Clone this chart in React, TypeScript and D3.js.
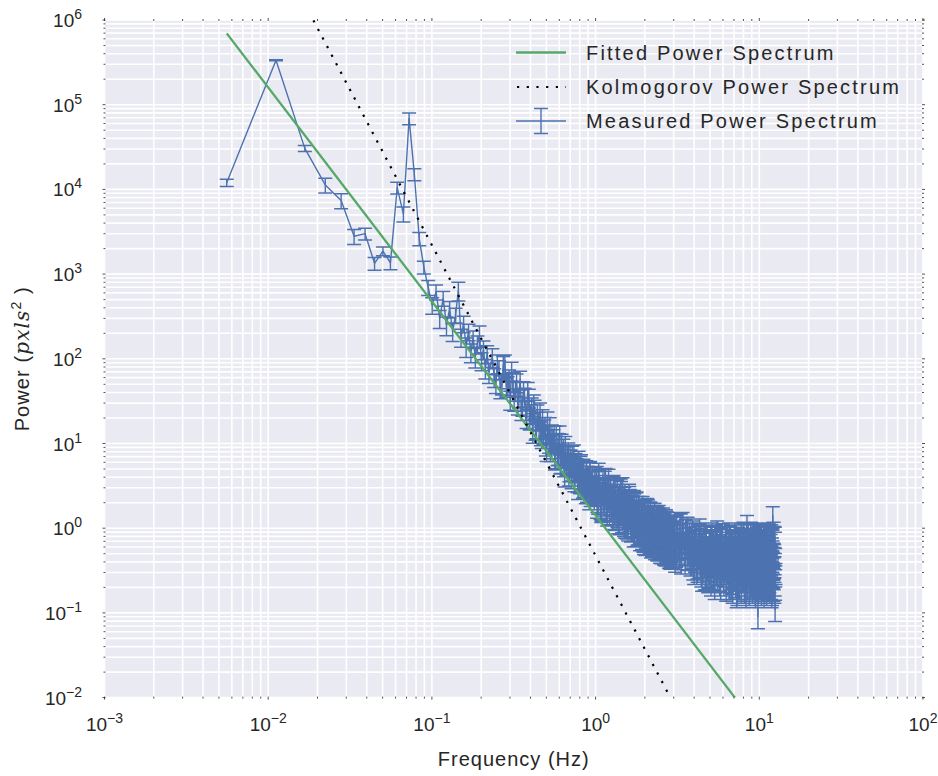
import React from 'react';
import * as d3 from 'd3';

// ---------- data ----------
// individually resolved low-frequency bins (Hz)
const freqLow = [
  0.00558, 0.01116, 0.01674, 0.02232, 0.0279, 0.03348, 0.03906, 0.04464, 0.05022, 0.0558,
  0.06138, 0.06696, 0.07254, 0.07812, 0.0837, 0.08928, 0.09486, 0.1004, 0.106, 0.1116,
  0.1172, 0.1228, 0.1283, 0.1339, 0.1395, 0.1451, 0.1507, 0.1562, 0.1618, 0.1674,
  0.173, 0.1786, 0.1841, 0.1897, 0.1953, 0.2009, 0.2065, 0.2121, 0.2176, 0.2232,
];
const powerLow = [
  12000, 335000, 30500, 11300, 7400, 2800, 3000, 1340, 1870, 1360,
  10500, 5150, 69000, 15100, 2630, 1210, 700, 430, 620, 300,
  520, 250, 390, 210, 330, 640, 180, 260, 140, 210,
  120, 175, 105, 150, 190, 95, 130, 78, 115, 70,
];
const relErrLow = [
  0.1, 0.015, 0.08, 0.2, 0.2, 0.2, 0.16, 0.17, 0.12, 0.17,
  0.16, 0.2, 0.16, 0.16, 0.18, 0.17, 0.2, 0.22, 0.2, 0.24,
  0.2, 0.25, 0.22, 0.24, 0.2, 0.25, 0.24, 0.22, 0.26, 0.22,
  0.25, 0.22, 0.26, 0.24, 0.28, 0.24, 0.25, 0.26, 0.24, 0.27,
];

// 0.23 - 1 Hz (even bins)
const freqMid = [
  0.234, 0.246, 0.257, 0.268, 0.279, 0.29, 0.301, 0.312, 0.324, 0.335,
  0.346, 0.357, 0.368, 0.379, 0.391, 0.402, 0.413, 0.424, 0.435, 0.446,
  0.458, 0.469, 0.48, 0.491, 0.502, 0.513, 0.525, 0.536, 0.547, 0.558,
  0.569, 0.58, 0.592, 0.603, 0.614, 0.625, 0.636, 0.647, 0.658, 0.67,
  0.681, 0.692, 0.703, 0.714, 0.725, 0.737, 0.748, 0.759, 0.77, 0.781,
  0.792, 0.804, 0.815, 0.826, 0.837, 0.848, 0.859, 0.871, 0.882, 0.893,
  0.904, 0.915, 0.926, 0.938, 0.949, 0.96, 0.971, 0.982, 0.993,
];
const powerMid = [
  105, 52, 76, 50, 89, 49, 33, 55, 42, 29,
  57, 28, 36, 20, 35, 23, 13.4, 26, 15.2, 18.7,
  24, 11.6, 13, 16.2, 8.2, 13.2, 16.1, 8.8, 10, 13,
  6.7, 10.5, 7.4, 12.9, 5.9, 7.6, 9, 4.1, 7.3, 5.7,
  8.1, 4.7, 6.7, 3.9, 5.5, 7.7, 4.2, 4.6, 5.9, 2.9,
  4.8, 3.4, 5.9, 3.7, 3.0, 4.7, 3.8, 2.6, 4.7, 3.0,
  4.0, 2.2, 4.9, 3.0, 2.6, 4.0, 3.3, 2.2, 3.7,
];
// 0.23 - 1 Hz (odd bins)
const freqMid2 = [
  0.24, 0.251, 0.262, 0.273, 0.285, 0.296, 0.307, 0.318, 0.329, 0.34,
  0.352, 0.363, 0.374, 0.385, 0.396, 0.407, 0.419, 0.43, 0.441, 0.452,
  0.463, 0.474, 0.486, 0.497, 0.508, 0.519, 0.53, 0.541, 0.553, 0.564,
  0.575, 0.586, 0.597, 0.608, 0.62, 0.631, 0.642, 0.653, 0.664, 0.675,
  0.687, 0.698, 0.709, 0.72, 0.731, 0.742, 0.754, 0.765, 0.776, 0.787,
  0.798, 0.809, 0.821, 0.832, 0.843, 0.854, 0.865, 0.876, 0.887, 0.899,
  0.91, 0.921, 0.932, 0.943, 0.954, 0.965, 0.977, 0.988, 0.999,
];
const powerMid2 = [
  61, 89, 45, 85, 47, 59, 73, 32, 53, 35,
  25, 43, 25, 42, 19.3, 27.6, 30, 14.6, 22.8, 15.1,
  12.5, 20, 15.2, 9.5, 18.9, 10.2, 8.1, 13.2, 11.6, 6.5,
  12.8, 7.3, 10.4, 5.8, 10.3, 6.8, 5.4, 9.7, 5.6, 7.6,
  4.2, 7.7, 4.8, 7.4, 4.7, 3.6, 6.1, 5.3, 3.5, 6.5,
  3.5, 5.6, 2.9, 4.7, 5.2, 3.1, 3.6, 5.0, 2.7, 4.3,
  3.0, 4.8, 2.4, 3.8, 4.2, 2.4, 2.8, 4.2, 2.5,
];
const relErrMid = 0.25;

// 1 - 3 Hz
const freqHigh1 = [
  1.016, 1.038, 1.06, 1.083, 1.105, 1.127, 1.15, 1.172, 1.194, 1.216,
  1.239, 1.261, 1.283, 1.306, 1.328, 1.35, 1.373, 1.395, 1.417, 1.44,
  1.462, 1.484, 1.507, 1.529, 1.551, 1.574, 1.596, 1.618, 1.641, 1.663,
  1.685, 1.708, 1.73, 1.752, 1.775, 1.797, 1.819, 1.842, 1.864, 1.886,
  1.908, 1.931, 1.953, 1.975, 1.998, 2.02, 2.042, 2.065, 2.087, 2.109,
  2.132, 2.154, 2.176, 2.199, 2.221, 2.243, 2.266, 2.288, 2.31, 2.333,
  2.355, 2.377, 2.4, 2.422, 2.444, 2.466, 2.489, 2.511, 2.533, 2.556,
  2.578, 2.6, 2.623, 2.645, 2.667, 2.69, 2.712, 2.734, 2.757, 2.779,
  2.801, 2.824, 2.846, 2.868, 2.891, 2.913, 2.935, 2.958, 2.98, 3.002,
];
const powerHigh1 = [
  4.2, 2.0, 2.9, 1.6, 3.3, 2.3, 4.0, 1.8, 2.6, 1.5,
  2.9, 1.9, 3.2, 1.5, 1.95, 2.4, 1.18, 2.6, 1.5, 1.93,
  3.1, 1.32, 1.56, 2.1, 1.02, 1.86, 1.34, 2.25, 1.06, 1.49,
  1.9, 0.82, 1.53, 1.09, 2.06, 1.17, 0.87, 1.5, 1.23, 0.9,
  1.65, 0.99, 1.31, 0.67, 1.43, 1.04, 0.78, 1.77, 0.85, 1.1,
  0.68, 1.29, 0.92, 1.46, 0.7, 1.09, 0.8, 1.31, 0.58, 0.95,
  1.13, 0.7, 1.38, 0.8, 0.59, 1.16, 0.84, 1.0, 0.6, 1.2,
  0.68, 0.88, 0.5, 1.03, 0.73, 1.3, 0.58, 0.79, 0.94, 0.5,
  1.04, 0.65, 0.83, 0.53, 1.07, 0.68, 0.45, 0.91, 0.58, 0.76,
];
const freqHigh1b = [
  1.027, 1.049, 1.071, 1.094, 1.116, 1.138, 1.161, 1.183, 1.205, 1.228,
  1.25, 1.272, 1.295, 1.317, 1.339, 1.362, 1.384, 1.406, 1.429, 1.451,
  1.473, 1.496, 1.518, 1.54, 1.562, 1.585, 1.607, 1.629, 1.652, 1.674,
  1.696, 1.719, 1.741, 1.763, 1.786, 1.808, 1.83, 1.853, 1.875, 1.897,
  1.92, 1.942, 1.964, 1.987, 2.009, 2.031, 2.053, 2.076, 2.098, 2.12,
  2.143, 2.165, 2.187, 2.21, 2.232, 2.254, 2.277, 2.299, 2.321, 2.344,
  2.366, 2.388, 2.411, 2.433, 2.455, 2.478, 2.5, 2.522, 2.545, 2.567,
  2.589, 2.612, 2.634, 2.656, 2.679, 2.701, 2.723, 2.745, 2.768, 2.79,
  2.812, 2.835, 2.857, 2.879, 2.902, 2.924, 2.946, 2.969, 2.991, 3.013,
];
const powerHigh1b = [
  2.1, 3.8, 1.74, 3.1, 2.1, 3.7, 1.69, 2.9, 2.1, 3.1,
  1.62, 2.4, 1.29, 2.9, 1.74, 1.4, 2.45, 1.5, 2.8, 1.21,
  1.89, 2.4, 1.04, 1.6, 2.1, 1.17, 2.45, 1.24, 1.82, 0.95,
  1.31, 1.99, 1.04, 1.7, 0.82, 1.43, 1.86, 0.88, 1.08, 1.56,
  0.77, 1.39, 0.91, 1.68, 0.66, 1.25, 1.46, 0.73, 1.33, 0.8,
  1.46, 0.72, 1.12, 0.63, 1.3, 0.84, 1.47, 0.66, 1.15, 0.7,
  0.62, 1.26, 0.74, 1.0, 1.31, 0.53, 1.06, 0.63, 1.12, 0.7,
  1.06, 0.52, 1.16, 0.62, 0.9, 0.53, 1.04, 0.67, 0.49, 1.05,
  0.54, 0.91, 0.45, 1.13, 0.56, 0.85, 0.62, 0.46, 0.94, 0.65,
];
const freqHigh1c = [
  1.021, 1.044, 1.066, 1.088, 1.11, 1.133, 1.155, 1.177, 1.2, 1.222,
  1.244, 1.267, 1.289, 1.311, 1.334, 1.356, 1.378, 1.401, 1.423, 1.445,
  1.468, 1.49, 1.512, 1.535, 1.557, 1.579, 1.602, 1.624, 1.646, 1.668,
  1.691, 1.713, 1.735, 1.758, 1.78, 1.802, 1.825, 1.847, 1.869, 1.892,
  1.914, 1.936, 1.959, 1.981, 2.003, 2.026, 2.048, 2.07, 2.093, 2.115,
  2.137, 2.16, 2.182, 2.204, 2.227, 2.249, 2.271, 2.294, 2.316, 2.338,
  2.361, 2.383, 2.405, 2.428, 2.45, 2.472, 2.494, 2.517, 2.539, 2.561,
  2.584, 2.606, 2.628, 2.651, 2.673, 2.695, 2.718, 2.74, 2.762, 2.785,
  2.807, 2.829, 2.852, 2.874, 2.896, 2.919, 2.941, 2.963, 2.986, 3.008,
];
const powerHigh1c = [
  1.8, 4.6, 2.7, 1.67, 3.9, 1.91, 3.0, 1.45, 3.9, 1.96,
  2.5, 1.32, 3.3, 1.89, 1.31, 2.9, 1.96, 1.15, 3.0, 1.47,
  2.2, 1.09, 2.6, 1.18, 2.1, 0.97, 2.6, 1.47, 0.94, 2.1,
  1.17, 2.2, 0.83, 1.63, 2.1, 0.86, 1.28, 1.88, 0.74, 1.56,
  0.83, 1.86, 0.71, 1.23, 1.65, 0.65, 1.46, 0.86, 1.7, 0.67,
  1.25, 1.6, 0.61, 0.91, 1.45, 0.61, 1.23, 1.55, 0.67, 0.95,
  1.41, 0.56, 1.1, 1.46, 0.59, 0.85, 1.28, 0.52, 1.12, 0.64,
  1.36, 0.52, 0.91, 1.23, 0.49, 0.97, 1.24, 0.51, 0.79, 1.13,
  0.46, 0.99, 1.21, 0.47, 0.67, 1.1, 0.47, 0.87, 1.12, 0.45,
];
const relErrHigh1 = 0.27;

// 3 - 12.6 Hz
const freqHigh2 = [
  3.05, 3.11, 3.18, 3.25, 3.31, 3.38, 3.45, 3.52, 3.58, 3.65,
  3.72, 3.78, 3.85, 3.92, 3.98, 4.05, 4.12, 4.19, 4.25, 4.32,
  4.39, 4.45, 4.52, 4.59, 4.65, 4.72, 4.79, 4.86, 4.92, 4.99,
  5.06, 5.12, 5.19, 5.26, 5.32, 5.39, 5.46, 5.53, 5.59, 5.66,
  5.73, 5.79, 5.86, 5.93, 5.99, 6.06, 6.13, 6.19, 6.26, 6.33,
  6.4, 6.46, 6.53, 6.6, 6.66, 6.73, 6.8, 6.86, 6.93, 7.0,
  7.07, 7.13, 7.2, 7.27, 7.33, 7.4, 7.47, 7.54, 7.6, 7.67,
  7.74, 7.8, 7.87, 7.94, 8.0, 8.07, 8.14, 8.21, 8.27, 8.34,
  8.41, 8.47, 8.54, 8.61, 8.67, 8.74, 8.81, 8.87, 8.94, 9.01,
  9.08, 9.14, 9.21, 9.28, 9.34, 9.41, 9.48, 9.54, 9.61, 9.68,
  9.75, 9.81, 9.88, 9.95, 10.01, 10.08, 10.15, 10.21, 10.28, 10.35,
  10.42, 10.48, 10.55, 10.62, 10.68, 10.75, 10.82, 10.88, 10.95, 11.02,
  11.09, 11.15, 11.22, 11.29, 11.35, 11.42, 11.49, 11.55, 11.62, 11.69,
  11.75, 11.82, 11.89, 11.96, 12.02, 12.09, 12.16, 12.22, 12.29, 12.36,
  12.42, 12.49, 12.56,
];
const powerHigh2 = [
  1.05, 0.48, 0.85, 0.52, 1.15, 0.6, 0.9, 0.4, 0.78, 1.05,
  0.45, 0.7, 0.38, 0.95, 0.58, 0.42, 0.82, 0.35, 0.62, 1.0,
  0.4, 0.55, 0.3, 0.72, 0.48, 0.9, 0.33, 0.6, 0.27, 0.52,
  0.8, 0.36, 0.58, 0.25, 0.45, 0.7, 0.32, 0.95, 0.4, 0.55,
  0.22, 0.62, 0.35, 0.8, 0.45, 0.28, 0.52, 0.34, 0.75, 0.24,
  0.48, 0.38, 0.9, 0.3, 0.58, 0.2, 0.44, 0.68, 0.27, 0.52,
  0.36, 0.85, 0.3, 0.16, 0.48, 0.62, 0.25, 0.4, 0.75, 0.33,
  0.5, 0.22, 0.58, 0.38, 0.92, 0.28, 0.45, 0.18, 0.55, 0.35,
  1.1, 0.26, 0.42, 0.6, 0.3, 0.4, 0.52, 0.85, 0.24, 0.46,
  0.33, 0.68, 0.2, 0.5, 0.36, 0.78, 0.28, 0.55, 0.4, 0.22,
  0.62, 0.09, 0.48, 0.3, 0.7, 0.25, 0.42, 0.88, 0.34, 0.56,
  0.2, 0.45, 0.65, 0.3, 0.5, 0.18, 0.4, 0.8, 0.27, 0.58,
  0.36, 0.72, 0.24, 0.5, 0.33, 0.66, 0.2, 0.45, 0.78, 0.29,
  0.55, 0.38, 0.16, 0.6, 0.42, 1.4, 0.27, 0.52, 0.35, 0.82,
  0.22, 0.11, 0.3,
];
const freqHigh2b = [
  3.08, 3.15, 3.21, 3.28, 3.35, 3.42, 3.48, 3.55, 3.62, 3.68,
  3.75, 3.82, 3.88, 3.95, 4.02, 4.09, 4.15, 4.22, 4.29, 4.35,
  4.42, 4.49, 4.55, 4.62, 4.69, 4.76, 4.82, 4.89, 4.96, 5.02,
  5.09, 5.16, 5.22, 5.29, 5.36, 5.43, 5.49, 5.56, 5.63, 5.69,
  5.76, 5.83, 5.89, 5.96, 6.03, 6.09, 6.16, 6.23, 6.3, 6.36,
  6.43, 6.5, 6.56, 6.63, 6.7, 6.76, 6.83, 6.9, 6.97, 7.03,
  7.1, 7.17, 7.23, 7.3, 7.37, 7.43, 7.5, 7.57, 7.64, 7.7,
  7.77, 7.84, 7.9, 7.97, 8.04, 8.1, 8.17, 8.24, 8.31, 8.37,
  8.44, 8.51, 8.57, 8.64, 8.71, 8.77, 8.84, 8.91, 8.98, 9.04,
  9.11, 9.18, 9.24, 9.31, 9.38, 9.44, 9.51, 9.58, 9.65, 9.71,
  9.78, 9.85, 9.91, 9.98, 10.05, 10.11, 10.18, 10.25, 10.32, 10.38,
  10.45, 10.52, 10.58, 10.65, 10.72, 10.78, 10.85, 10.92, 10.99, 11.05,
  11.12, 11.19, 11.25, 11.32, 11.39, 11.45, 11.52, 11.59, 11.66, 11.72,
  11.79, 11.86, 11.92, 11.99, 12.06, 12.12, 12.19, 12.26, 12.33, 12.39,
  12.46, 12.53,
];
const powerHigh2b = [
  0.55, 0.95, 0.62, 1.2, 0.45, 0.78, 0.5, 0.98, 0.44, 0.68,
  0.88, 0.4, 0.62, 0.34, 0.72, 0.5, 0.3, 0.66, 0.45, 0.85,
  0.28, 0.68, 0.5, 0.36, 0.82, 0.28, 0.55, 0.42, 0.75, 0.3,
  0.5, 0.72, 0.26, 0.6, 0.38, 0.85, 0.29, 0.5, 0.65, 0.25,
  0.46, 0.78, 0.3, 0.55, 0.24, 0.6, 0.42, 0.7, 0.22, 0.5,
  0.62, 0.28, 0.45, 0.82, 0.35, 0.5, 0.23, 0.62, 0.4, 0.8,
  0.25, 0.55, 0.42, 0.7, 0.3, 0.2, 0.52, 0.66, 0.29, 0.45,
  0.85, 0.35, 0.26, 0.6, 0.44, 0.18, 0.7, 0.32, 0.5, 0.9,
  0.24, 0.48, 0.36, 0.75, 0.28, 0.58, 0.2, 0.42, 0.66, 0.32,
  0.52, 0.88, 0.26, 0.44, 0.62, 0.17, 0.5, 0.35, 0.72, 0.28,
  0.46, 0.6, 0.24, 0.82, 0.38, 0.52, 0.2, 0.66, 0.31, 0.48,
  0.75, 0.26, 0.55, 0.4, 0.9, 0.22, 0.5, 0.36, 0.62, 0.18,
  0.45, 0.7, 0.3, 0.58, 0.38, 0.85, 0.24, 0.52, 0.34, 0.66,
  0.2, 0.48, 0.76, 0.3, 0.55, 0.4, 0.92, 0.26, 0.5, 0.36,
  0.7, 0.28,
];
const freqHigh2c = [
  3.06, 3.13, 3.2, 3.27, 3.33, 3.4, 3.47, 3.53, 3.6, 3.67,
  3.73, 3.8, 3.87, 3.93, 4.0, 4.07, 4.14, 4.2, 4.27, 4.34,
  4.4, 4.47, 4.54, 4.6, 4.67, 4.74, 4.8, 4.87, 4.94, 5.01,
  5.07, 5.14, 5.21, 5.27, 5.34, 5.41, 5.47, 5.54, 5.61, 5.68,
  5.74, 5.81, 5.88, 5.94, 6.01, 6.08, 6.14, 6.21, 6.28, 6.34,
  6.41, 6.48, 6.55, 6.61, 6.68, 6.75, 6.81, 6.88, 6.95, 7.01,
  7.08, 7.15, 7.22, 7.28, 7.35, 7.42, 7.48, 7.55, 7.62, 7.68,
  7.75, 7.82, 7.89, 7.95, 8.02, 8.09, 8.15, 8.22, 8.29, 8.35,
  8.42, 8.49, 8.56, 8.62, 8.69, 8.76, 8.82, 8.89, 8.96, 9.02,
  9.09, 9.16, 9.23, 9.29, 9.36, 9.43, 9.49, 9.56, 9.63, 9.69,
  9.76, 9.83, 9.9, 9.96, 10.03, 10.1, 10.16, 10.23, 10.3, 10.36,
  10.43, 10.5, 10.57, 10.63, 10.7, 10.77, 10.83, 10.9, 10.97, 11.03,
  11.1, 11.17, 11.24, 11.3, 11.37, 11.44, 11.5, 11.57, 11.64, 11.7,
  11.77, 11.84, 11.91, 11.97, 12.04, 12.11, 12.17, 12.24, 12.31, 12.37,
  12.44, 12.51,
];
const powerHigh2c = [
  0.42, 1.1, 0.58, 0.9, 0.4, 1.2, 0.7, 0.45, 1.0, 0.5,
  0.8, 0.38, 0.9, 0.46, 0.3, 0.75, 0.55, 0.32, 0.88, 0.36,
  0.78, 0.25, 0.62, 0.4, 0.26, 0.85, 0.44, 0.24, 0.7, 0.38,
  0.22, 0.9, 0.46, 0.7, 0.2, 0.55, 0.82, 0.24, 0.62, 0.3,
  0.75, 0.2, 0.5, 0.88, 0.32, 0.22, 0.66, 0.4, 0.19, 0.8,
  0.3, 0.62, 0.2, 0.46, 0.85, 0.26, 0.72, 0.18, 0.55, 0.34,
  0.9, 0.21, 0.6, 0.35, 0.17, 0.8, 0.44, 0.2, 0.68, 0.3,
  0.18, 0.78, 0.46, 0.24, 0.88, 0.19, 0.6, 0.36, 0.16, 0.72,
  0.4, 0.2, 0.85, 0.5, 0.17, 0.66, 0.3, 0.92, 0.21, 0.56,
  0.18, 0.74, 0.4, 0.2, 0.86, 0.3, 0.16, 0.68, 0.45, 0.19,
  0.8, 0.34, 0.18, 0.9, 0.5, 0.2, 0.72, 0.28, 0.17, 0.84,
  0.42, 0.19, 0.7, 0.3, 0.16, 0.88, 0.46, 0.2, 0.74, 0.33,
  0.17, 0.82, 0.52, 0.19, 0.66, 0.28, 0.9, 0.18, 0.6, 0.4,
  0.2, 0.86, 0.32, 0.17, 0.74, 0.5, 0.19, 0.92, 0.3, 0.18,
  0.8, 0.45,
];
const relErrHigh2 = 0.28;

// model lines (end points)
const fittedFreq = [0.00558, 7.1];
const fittedPower = [696000, 0.01];
const kolmogorovFreq = [0.01, 10];
const kolmogorovPower = [1.02e7, 1.02e-4];

const legendLabels = ['Fitted Power Spectrum', 'Kolmogorov Power Spectrum', 'Measured Power Spectrum'];
const xDomain = [1e-3, 1e2];
const yDomain = [1e-2, 1e6];

// ---------- styling ----------
const W = 938;
const H = 776;
const M = { left: 104.5, right: 923, top: 20, bottom: 697.6 };
const BG = '#EAEAF2';
const BLUE = '#4C72B0';
const GREEN = '#55A868';
const TEXT = '#262626';
const FONT = '"Liberation Sans", Arial, Helvetica, sans-serif';

type Pt = { f: number; p: number; e: number };

function buildMeasured(): Pt[] {
  const out: Pt[] = [];
  const push = (fs: number[], ps: number[], err: (i: number) => number) => {
    const n = Math.min(fs.length, ps.length);
    for (let i = 0; i < n; i++) out.push({ f: fs[i], p: ps[i], e: err(i) });
  };
  push(freqLow, powerLow, (i) => relErrLow[i] ?? 0.2);
  push(freqMid, powerMid, () => relErrMid);
  push(freqMid2, powerMid2, () => relErrMid);
  push(freqHigh1, powerHigh1, () => relErrHigh1);
  push(freqHigh1b, powerHigh1b, () => relErrHigh1);
  push(freqHigh1c, powerHigh1c, () => relErrHigh1);
  push(freqHigh2, powerHigh2, () => relErrHigh2);
  push(freqHigh2b, powerHigh2b, () => relErrHigh2);
  push(freqHigh2c, powerHigh2c, () => relErrHigh2);
  return out.sort((a, b) => a.f - b.f);
}

const isDecade = (v: number) => Math.abs(Math.log10(v) - Math.round(Math.log10(v))) < 1e-9;
const expOf = (v: number) => {
  const e = Math.round(Math.log10(v));
  return e < 0 ? '\u2212' + Math.abs(e) : String(e);
};

export default function App() {
  const x = d3.scaleLog().domain(xDomain).range([M.left, M.right]);
  const y = d3.scaleLog().domain(yDomain).range([M.bottom, M.top]);
  const xTicks = x.ticks();
  const yTicks = y.ticks();

  const measured = buildMeasured();
  const line = d3
    .line<Pt>()
    .x((d) => x(d.f))
    .y((d) => y(d.p));
  const modelLine = (fs: number[], ps: number[]) =>
    d3
      .line<number>()
      .x((_, i) => x(fs[i]))
      .y((_, i) => y(ps[i]))(fs.map((_, i) => i)) || '';

  const cap = 7;
  const errPaths: string[] = [];
  const capPaths: string[] = [];
  measured.forEach((d) => {
    const cx = x(d.f);
    const y1 = y(d.p * (1 + d.e));
    const y0 = y(Math.max(d.p * (1 - d.e), 1e-6));
    errPaths.push(`M${cx.toFixed(2)},${y0.toFixed(2)}V${y1.toFixed(2)}`);
    capPaths.push(
      `M${(cx - cap).toFixed(2)},${y1.toFixed(2)}h${2 * cap}M${(cx - cap).toFixed(2)},${y0.toFixed(2)}h${2 * cap}`
    );
  });

  const legendX0 = 516;
  const legendX1 = 566;
  const legendTextX = 586;
  const legendY = [52.5, 87, 121];
  const lmx = (legendX0 + legendX1) / 2;

  return (
    <svg
      width={W}
      height={H}
      viewBox={`0 0 ${W} ${H}`}
      style={{ position: 'absolute', left: 0, top: 0, background: '#fff', fontFamily: FONT }}
    >
      <defs>
        <clipPath id="plotClip">
          <rect x={M.left} y={M.top} width={M.right - M.left} height={M.bottom - M.top} />
        </clipPath>
      </defs>
      <rect x={M.left} y={M.top} width={M.right - M.left} height={M.bottom - M.top} fill={BG} />
      {/* grid */}
      <g stroke="#fff" strokeWidth={1.6}>
        {xTicks.map((t, i) => (
          <line key={'gx' + i} x1={x(t)} x2={x(t)} y1={M.top} y2={M.bottom} />
        ))}
        {yTicks.map((t, i) => (
          <line key={'gy' + i} x1={M.left} x2={M.right} y1={y(t)} y2={y(t)} />
        ))}
      </g>

      <g clipPath="url(#plotClip)">
        {/* measured spectrum */}
        <path d={line(measured) || ''} fill="none" stroke={BLUE} strokeWidth={1.4} strokeLinejoin="round" />
        <path d={errPaths.join('')} fill="none" stroke={BLUE} strokeWidth={1.4} />
        <path d={capPaths.join('')} fill="none" stroke={BLUE} strokeWidth={1.5} />
        {/* fitted */}
        <path d={modelLine(fittedFreq, fittedPower)} fill="none" stroke={GREEN} strokeWidth={2.3} />
        {/* kolmogorov */}
        <path
          d={modelLine(kolmogorovFreq, kolmogorovPower)}
          fill="none"
          stroke="#000"
          strokeWidth={2.2}
          strokeDasharray="2.2 7.5"
        />
      </g>

      {/* tick marks */}
      <g stroke={TEXT} strokeWidth={0.8}>
        {xTicks.map((t, i) => {
          const L = isDecade(t) ? 3 : 2;
          return (
            <g key={'tx' + i}>
              <line x1={x(t)} x2={x(t)} y1={M.bottom - 1} y2={M.bottom - 1 + L} />
              <line x1={x(t)} x2={x(t)} y1={M.top + 1} y2={M.top + 1 - L} />
            </g>
          );
        })}
        {yTicks.map((t, i) => {
          const L = isDecade(t) ? 3 : 2;
          return (
            <g key={'ty' + i}>
              <line x1={M.left + 1} x2={M.left + 1 - L} y1={y(t)} y2={y(t)} />
              <line x1={M.right - 1} x2={M.right - 1 + L} y1={y(t)} y2={y(t)} />
            </g>
          );
        })}
      </g>

      {/* tick labels */}
      <g fill={TEXT} fontSize={19}>
        {xTicks.filter(isDecade).map((t, i) => (
          <text key={'lx' + i} x={x(t)} y={731} textAnchor="middle">
            10<tspan dy={-8} fontSize={14}>{expOf(t)}</tspan>
          </text>
        ))}
        {yTicks.filter(isDecade).map((t, i) => (
          <text key={'ly' + i} x={82} y={y(t) + 7} textAnchor="end">
            10<tspan dy={-8} fontSize={14}>{expOf(t)}</tspan>
          </text>
        ))}
      </g>

      {/* axis titles */}
      <text
        x={(M.left + M.right) / 2}
        y={766}
        textAnchor="middle"
        fontSize={20}
        letterSpacing={1}
        fill={TEXT}
      >
        Frequency (Hz)
      </text>
      <text
        transform={`translate(29,${(M.top + M.bottom) / 2}) rotate(-90)`}
        textAnchor="middle"
        fontSize={20}
        letterSpacing={1.1}
        fill={TEXT}
      >
        Power (<tspan fontStyle="italic" fontFamily='"DejaVu Serif", serif'>pxls</tspan>
        <tspan dy={-8} fontSize={14}>2</tspan>
        <tspan dy={8}> )</tspan>
      </text>

      {/* legend */}
      <g>
        <line x1={legendX0} x2={legendX1} y1={legendY[0]} y2={legendY[0]} stroke={GREEN} strokeWidth={2.3} />
        <line
          x1={legendX0 + 1}
          x2={legendX1}
          y1={legendY[1]}
          y2={legendY[1]}
          stroke="#000"
          strokeWidth={2.2}
          strokeDasharray="2.2 7.5"
        />
        <line x1={legendX0} x2={legendX1} y1={legendY[2]} y2={legendY[2]} stroke={BLUE} strokeWidth={1.4} />
        <line x1={lmx} x2={lmx} y1={legendY[2] - 12.5} y2={legendY[2] + 12.5} stroke={BLUE} strokeWidth={1.4} />
        <path
          d={`M${lmx - cap},${legendY[2] - 12.5}h${2 * cap}M${lmx - cap},${legendY[2] + 12.5}h${2 * cap}`}
          stroke={BLUE}
          strokeWidth={1.5}
        />
        {legendLabels.map((l, i) => (
          <text key={l} x={legendTextX} y={legendY[i] + 7} fontSize={20} letterSpacing={2.2} fill={TEXT}>
            {l}
          </text>
        ))}
      </g>
    </svg>
  );
}
